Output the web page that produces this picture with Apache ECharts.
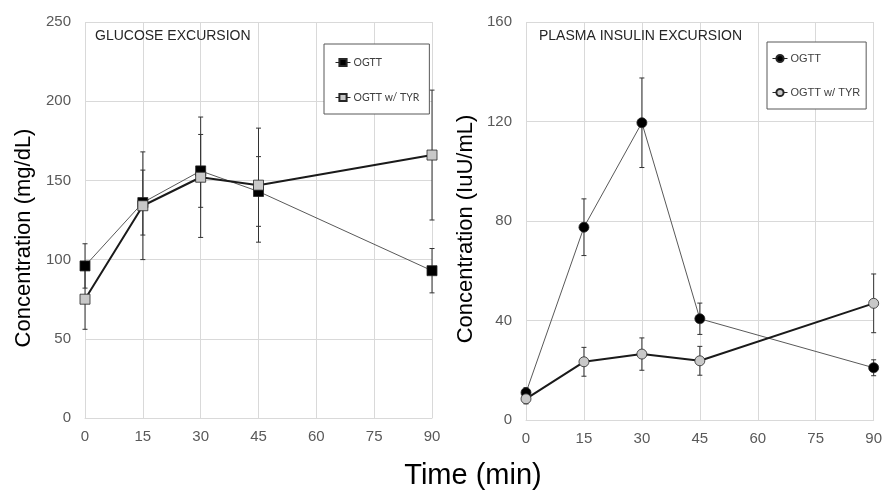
<!DOCTYPE html>
<html>
<head>
<meta charset="utf-8">
<script src="https://cdn.jsdelivr.net/npm/echarts@6/dist/echarts.min.js"></script>
<style>
  html, body { margin: 0; padding: 0; background: #fff; }
  #chart { width: 885px; height: 490px; }
</style>
</head>
<body>
<div id="chart"></div>
<script>
const times = [0, 15, 30, 45, 90]

// glucose, mg/dL (mean and +/- error)
const glucoseOgtt = [96, 136, 156, 143, 93]
const glucoseOgttErr = [14, 20.5, 23, 22, 14]
const glucoseTyr = [75, 134, 152, 147, 166]
const glucoseTyrErr = [19, 34, 38, 36, 41]

// plasma insulin, IuU/mL
const insulinOgtt = [11, 77.5, 119.5, 40.7, 21]
const insulinOgttErr = [2, 11.4, 18, 6.3, 3.2]
const insulinTyr = [8.5, 23.4, 26.5, 23.8, 46.9]
const insulinTyrErr = [2, 5.8, 6.5, 5.8, 11.8]

const font = 'Liberation Sans'
const gridColor = '#d9d9d9'
const labelColor = '#595959'

const pts = (ys) => times.map((t, i) => [t, ys[i]])
const errs = (ys, es) => times.map((t, i) => [t, ys[i] - es[i], ys[i] + es[i]])

function renderErr(params, api) {
  const x = api.value(0)
  const top = api.coord([x, api.value(2)])
  const bot = api.coord([x, api.value(1)])
  const w = 2.5
  const style = { stroke: '#333', lineWidth: 1 }
  return {
    type: 'group',
    children: [
      { type: 'line', shape: { x1: top[0], y1: top[1], x2: bot[0], y2: bot[1] }, style },
      { type: 'line', shape: { x1: top[0] - w, y1: top[1], x2: top[0] + w, y2: top[1] }, style },
      { type: 'line', shape: { x1: bot[0] - w, y1: bot[1], x2: bot[0] + w, y2: bot[1] }, style }
    ]
  }
}

function xAxisFor(gridIndex) {
  return {
    type: 'value',
    gridIndex,
    min: 0,
    max: 90,
    interval: 15,
    axisLine: { show: true, lineStyle: { color: gridColor } },
    axisTick: { show: false },
    splitLine: { show: true, lineStyle: { color: gridColor } },
    axisLabel: { fontSize: 15, color: labelColor, fontFamily: font, margin: 11 }
  }
}

function yAxisFor(gridIndex, max, interval) {
  return {
    type: 'value',
    gridIndex,
    min: 0,
    max,
    interval,
    axisLine: { show: false },
    axisTick: { show: false },
    splitLine: { show: true, lineStyle: { color: gridColor } },
    axisLabel: { fontSize: 15, color: labelColor, fontFamily: font, margin: 14 }
  }
}

function lineSeries(name, idx, data, symbol, fill, thick) {
  return {
    name,
    type: 'line',
    xAxisIndex: idx,
    yAxisIndex: idx,
    data,
    symbol,
    symbolSize: 10,
    z: 3,
    lineStyle: thick ? { color: '#1a1a1a', width: 2 } : { color: '#595959', width: 1 },
    itemStyle: { color: fill, borderColor: '#262626', borderWidth: 0.8 }
  }
}

function errSeries(idx, data) {
  return {
    type: 'custom',
    xAxisIndex: idx,
    yAxisIndex: idx,
    data,
    z: 2,
    silent: true,
    renderItem: renderErr,
    encode: { x: 0, y: [1, 2] }
  }
}

function legendFor(left, top, names, textFont, fontSize, padding, itemGap) {
  return {
    left,
    top,
    orient: 'vertical',
    padding,
    itemGap,
    itemWidth: 15,
    itemHeight: 9,
    borderColor: '#595959',
    borderWidth: 1,
    backgroundColor: '#fff',
    selectedMode: false,
    lineStyle: { width: 1, color: '#262626' },
    formatter: (n) => n.trim(),
    textStyle: { fontSize, color: '#404040', fontFamily: textFont, padding: [0, 0, 0, -2] },
    data: names
  }
}

function axisName(text, x, y) {
  return {
    type: 'text',
    x,
    y,
    rotation: Math.PI / 2,
    style: { text, fontSize: 22, fontFamily: font, fill: '#000', align: 'center', verticalAlign: 'middle' }
  }
}

const chart = echarts.init(document.getElementById('chart'))
chart.setOption({
  animation: false,
  backgroundColor: '#fff',
  title: [
    { text: 'GLUCOSE EXCURSION', left: 95, top: 29, padding: 0,
      textStyle: { fontSize: 14, fontWeight: 'normal', color: '#262626', fontFamily: font } },
    { text: 'PLASMA INSULIN EXCURSION', left: 539, top: 29, padding: 0,
      textStyle: { fontSize: 14, fontWeight: 'normal', color: '#262626', fontFamily: font } }
  ],
  grid: [
    { left: 85, right: 453, top: 22, bottom: 72 },
    { left: 526, right: 10, top: 22, bottom: 70 }
  ],
  xAxis: [xAxisFor(0), xAxisFor(1)],
  yAxis: [yAxisFor(0, 250, 50), yAxisFor(1, 160, 40)],
  legend: [
    legendFor(324, 44, ['OGTT', 'OGTT w/ TYR'], 'Lato', 10.5, [13, 10, 11, 11], 24),
    legendFor(767, 42, ['OGTT ', 'OGTT w/ TYR '], font, 11, [11, 6, 11, 5], 23)
  ],
  graphic: [
    axisName('Concentration (mg/dL)', 24, 238),
    axisName('Concentration (IuU/mL)', 466, 229),
    {
      type: 'text',
      x: 473,
      y: 476,
      style: { text: 'Time (min)', fontSize: 29, fontFamily: font, fill: '#000', align: 'center', verticalAlign: 'middle' }
    }
  ],
  series: [
    errSeries(0, errs(glucoseOgtt, glucoseOgttErr)),
    errSeries(0, errs(glucoseTyr, glucoseTyrErr)),
    lineSeries('OGTT', 0, pts(glucoseOgtt), 'rect', '#000', false),
    lineSeries('OGTT w/ TYR', 0, pts(glucoseTyr), 'rect', '#c8c8c8', true),
    errSeries(1, errs(insulinOgtt, insulinOgttErr)),
    errSeries(1, errs(insulinTyr, insulinTyrErr)),
    lineSeries('OGTT ', 1, pts(insulinOgtt), 'circle', '#000', false),
    lineSeries('OGTT w/ TYR ', 1, pts(insulinTyr), 'circle', '#c8c8c8', true)
  ]
})
</script>
</body>
</html>
